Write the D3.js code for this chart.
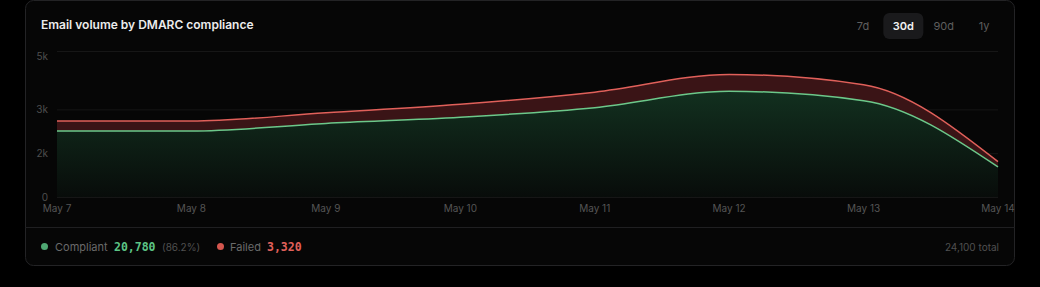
<!DOCTYPE html>
<html>
<head>
<meta charset="UTF-8">
<title>Email volume by DMARC compliance</title>
<style>
  html, body { margin: 0; padding: 0; background: #000; }
  body { font-family: "Inter", "Noto Sans", sans-serif; }
  svg { display: block; }
</style>
</head>
<body>
<svg id="chart"></svg>
<script src="https://cdn.jsdelivr.net/npm/d3@7/dist/d3.min.js"></script>
<script>
// data, one point per day
const days = ["2024-05-07", "2024-05-08", "2024-05-09", "2024-05-10", "2024-05-11", "2024-05-12", "2024-05-13", "2024-05-14"];
const compliant = [2260, 2260, 2520, 2730, 3060, 3620, 3300, 1030];
const failed = [340, 340, 365, 445, 530, 575, 545, 180];
const yTicks = [0, 1500, 3000, 5000];
const yTickLabels = ["0", "2k", "3k", "5k"];
const ranges = ["7d", "30d", "90d", "1y"];
const activeRange = "30d";

const width = 1040, height = 287;
const svg = d3.select("#chart").attr("width", width).attr("height", height);

const parse = d3.timeParse("%Y-%m-%d");
const rows = days.map((d, i) => ({ date: parse(d), ok: compliant[i], bad: failed[i] }));

const totalOk = d3.sum(compliant), totalBad = d3.sum(failed), total = totalOk + totalBad;

// card
svg.append("rect")
  .attr("x", 25.5).attr("y", 0.5)
  .attr("width", 989).attr("height", 265)
  .attr("rx", 8)
  .attr("fill", "#060606")
  .attr("stroke", "#232325");

svg.append("text")
  .attr("x", 41).attr("y", 29)
  .attr("fill", "#ececec")
  .attr("font-size", "12px")
  .attr("font-weight", 600)
  .text("Email volume by DMARC compliance");

// range buttons
const btnX = d3.scalePoint().domain(ranges).range([863, 984]);
const btns = svg.append("g").selectAll("g").data(ranges).enter().append("g");
btns.filter(d => d == activeRange).append("rect")
  .attr("x", d => btnX(d) - 20).attr("y", 13)
  .attr("width", 40).attr("height", 26)
  .attr("rx", 6)
  .attr("fill", "#1a1a1c");
btns.append("text")
  .attr("x", d => btnX(d)).attr("y", 30)
  .attr("text-anchor", "middle")
  .attr("font-size", "11px")
  .attr("font-weight", d => d == activeRange ? 600 : 400)
  .attr("fill", d => d == activeRange ? "#f2f2f2" : "#5e5e5e")
  .text(d => d);

// scales
const x = d3.scaleTime().domain(d3.extent(rows, d => d.date)).range([57, 998]);
const y = d3.scaleLinear().domain([0, 5000]).range([197, 51]);

const defs = svg.append("defs");
const grad = defs.append("linearGradient").attr("id", "okFill")
  .attr("x1", 0).attr("x2", 0).attr("y1", 0).attr("y2", 1);
grad.append("stop").attr("offset", "0%").attr("stop-color", "#12301f");
grad.append("stop").attr("offset", "100%").attr("stop-color", "#080c0a");

// grid
svg.append("g").selectAll("line").data(yTicks).enter().append("line")
  .attr("x1", 57).attr("x2", 998)
  .attr("y1", d => y(d) + 0.5).attr("y2", d => y(d) + 0.5)
  .attr("stroke", "#161616");

svg.append("g").selectAll("text").data(yTicks).enter().append("text")
  .attr("x", 48)
  .attr("y", d => Math.max(y(d), 56) + 3.5)
  .attr("text-anchor", "end")
  .attr("font-size", "10px")
  .attr("fill", "#4e4e4e")
  .text((d, i) => yTickLabels[i]);

const curve = d3.curveMonotoneX;

const okArea = d3.area().x(d => x(d.date)).y0(y(0)).y1(d => y(d.ok)).curve(curve);
const badArea = d3.area().x(d => x(d.date)).y0(d => y(d.ok)).y1(d => y(d.ok + d.bad)).curve(curve);

svg.append("path").datum(rows).attr("d", okArea).attr("fill", "url(#okFill)");
svg.append("path").datum(rows).attr("d", badArea).attr("fill", "#3a1416");

svg.append("path").datum(rows)
  .attr("d", d3.line().x(d => x(d.date)).y(d => y(d.ok)).curve(curve))
  .attr("fill", "none").attr("stroke", "#6cc88a").attr("stroke-width", 1.5);
svg.append("path").datum(rows)
  .attr("d", d3.line().x(d => x(d.date)).y(d => y(d.ok + d.bad)).curve(curve))
  .attr("fill", "none").attr("stroke", "#e0605a").attr("stroke-width", 1.5);

// x labels
const fmt = d3.timeFormat("%b %-d");
svg.append("g").selectAll("text").data(rows).enter().append("text")
  .attr("x", d => x(d.date))
  .attr("y", 212)
  .attr("text-anchor", "middle")
  .attr("font-size", "10px")
  .attr("fill", "#555")
  .text(d => fmt(d.date));

// footer
svg.append("line")
  .attr("x1", 25).attr("x2", 1015)
  .attr("y1", 227.5).attr("y2", 227.5)
  .attr("stroke", "#1f1f21");

const mono = "'DejaVu Sans Mono', 'Liberation Mono', monospace";
const legend = svg.append("g").attr("transform", "translate(0,247)");
legend.append("circle").attr("cx", 44.5).attr("cy", -0.5).attr("r", 3.5).attr("fill", "#4fa873");
legend.append("text").attr("x", 55).attr("y", 4)
  .attr("font-size", "11px").attr("fill", "#6a6a6a").text("Compliant");
legend.append("text").attr("x", 114).attr("y", 4)
  .attr("font-size", "11.5px").attr("font-weight", 700).attr("font-family", mono)
  .attr("fill", "#5cc485").text(d3.format(",")(totalOk));
legend.append("text").attr("x", 162).attr("y", 4)
  .attr("font-size", "10px").attr("fill", "#505050")
  .text("(" + (totalOk / total * 100).toFixed(1) + "%)");
legend.append("circle").attr("cx", 220.5).attr("cy", -0.5).attr("r", 3.5).attr("fill", "#d4564e");
legend.append("text").attr("x", 230).attr("y", 4)
  .attr("font-size", "11px").attr("fill", "#6a6a6a").text("Failed");
legend.append("text").attr("x", 267).attr("y", 4)
  .attr("font-size", "11.5px").attr("font-weight", 700).attr("font-family", mono)
  .attr("fill", "#e0605a").text(d3.format(",")(totalBad));
legend.append("text").attr("x", 999).attr("y", 4)
  .attr("text-anchor", "end")
  .attr("font-size", "10px").attr("fill", "#505050")
  .text(d3.format(",")(total) + " total");
</script>
</body>
</html>
